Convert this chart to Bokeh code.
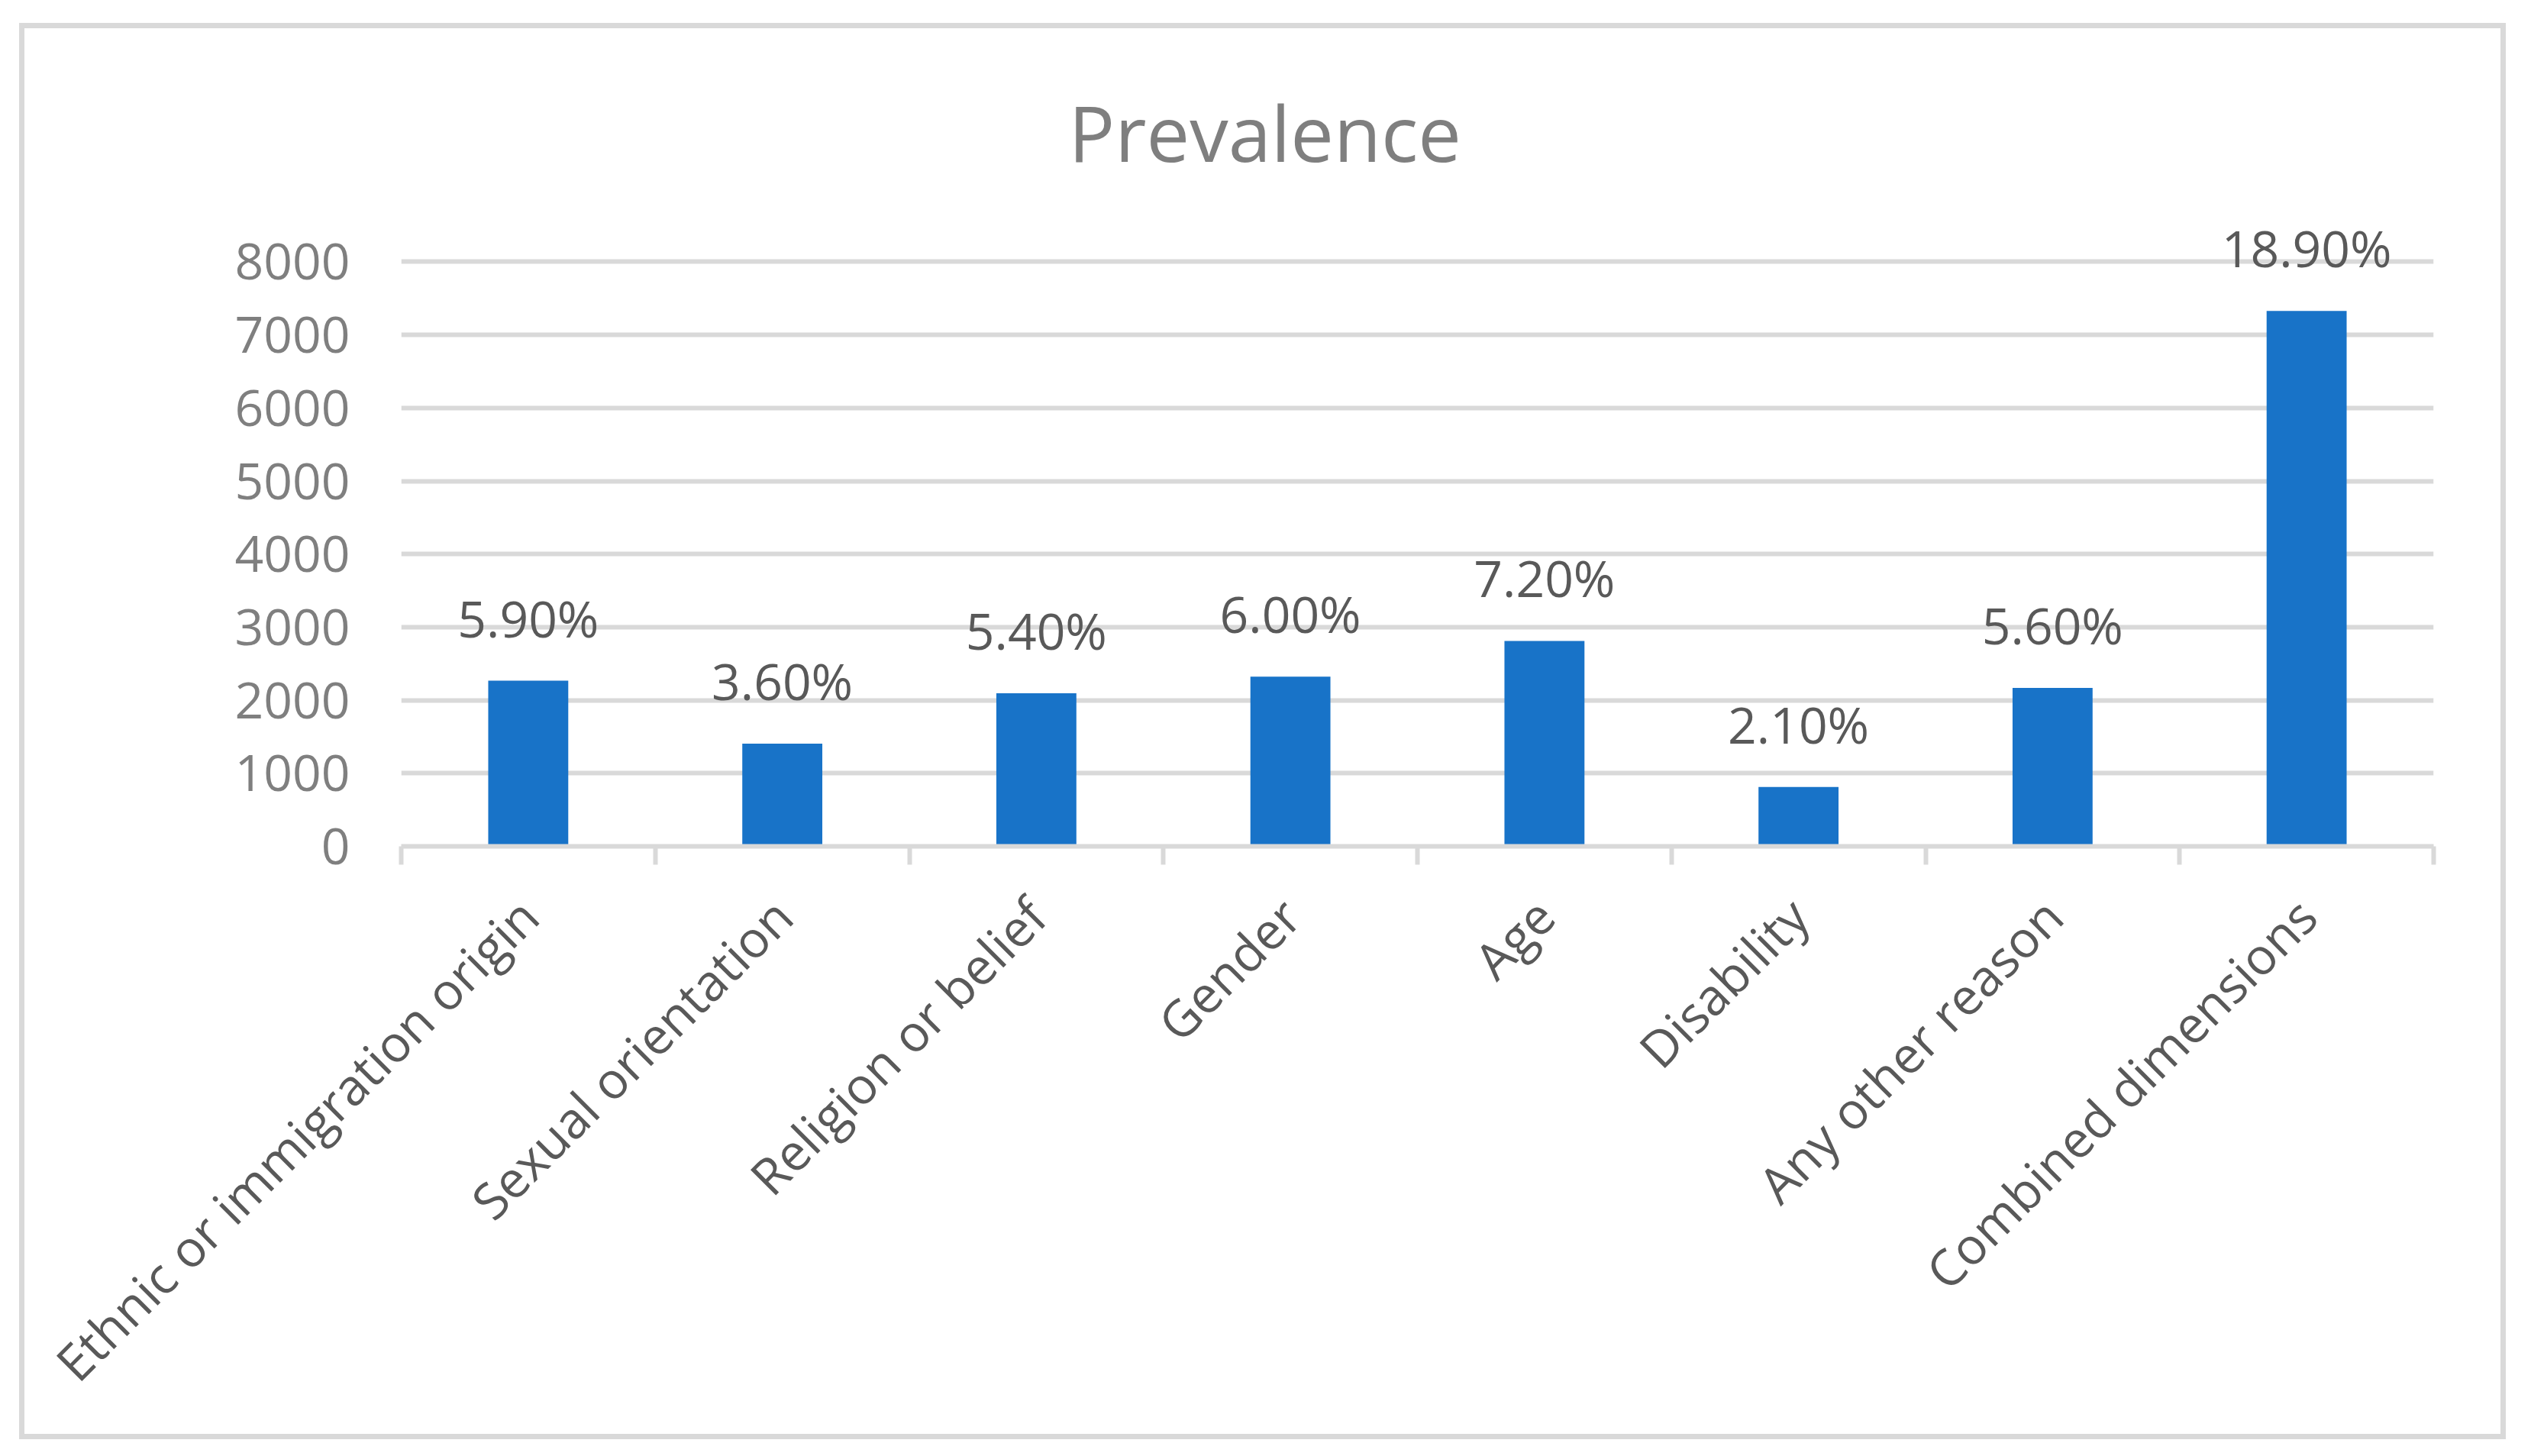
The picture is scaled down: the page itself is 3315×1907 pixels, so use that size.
from math import pi
from bokeh.plotting import figure
from bokeh.models import (ColumnDataSource, LinearAxis, Range1d, FixedTicker, LabelSet)
from bokeh.core.properties import value
from bokeh.embed import file_html
from bokeh.resources import INLINE

# ---- data ----
categories = ["Ethnic or immigration origin", "Sexual orientation", "Religion or belief",
              "Gender", "Age", "Disability", "Any other reason", "Combined dimensions"]
counts = [2267, 1406, 2094, 2323, 2812, 812, 2167, 7328]
prevalence = ["5.90%", "3.60%", "5.40%", "6.00%", "7.20%", "2.10%", "5.60%", "18.90%"]
y_ticks = [0, 1000, 2000, 3000, 4000, 5000, 6000, 7000, 8000]
y_view_max = 8600          # a little headroom so the top data label is not clipped
chart_title = "Prevalence"

FONT = "Open Sans"
GRID = "#d9d9d9"
BAR = "#1873C8"
LW = 6

n = len(categories)
slot_centers = [i + 0.5 for i in range(n)]      # category slot centres on a 0..n axis
slot_edges = list(range(n + 1))                  # category slot boundaries

src = ColumnDataSource(dict(x=slot_centers, cat=categories, count=counts, pct=prevalence))

W, H = 3257, 1855
p = figure(width=W, height=H,
           x_range=Range1d(0, n),
           y_range=Range1d(y_ticks[0], y_view_max),
           output_backend="svg", toolbar_location=None,
           x_axis_location=None, y_axis_location="left",
           min_border_left=493, min_border_right=102,
           min_border_top=248, min_border_bottom=784,
           title=chart_title)
p.styles = {"border": f"7px solid {GRID}", "margin-left": "25px", "margin-top": "30px"}
p.outline_line_color = None
p.background_fill_color = "white"
p.border_fill_color = "white"
p.xgrid.visible = False

# title
p.title.text_font = FONT
p.title.text_font_size = "101px"
p.title.text_font_style = "normal"
p.title.text_color = "#7f7f7f"
p.title.align = "left"
p.title.offset = 874
p.title.standoff = 87

# y axis
p.yaxis.ticker = FixedTicker(ticks=y_ticks)
p.yaxis.axis_line_color = None
p.yaxis.major_tick_line_color = None
p.yaxis.minor_tick_line_color = None
p.yaxis.major_tick_in = 0
p.yaxis.major_tick_out = 0
p.yaxis.major_label_standoff = 67
p.yaxis.major_label_text_font = FONT
p.yaxis.major_label_text_font_size = "66px"
p.yaxis.major_label_text_color = "#7f7f7f"
p.ygrid.ticker = FixedTicker(ticks=y_ticks)
p.ygrid.grid_line_color = GRID
p.ygrid.grid_line_width = LW

# bars
p.vbar(x="x", top="count", width=0.315, source=src, fill_color=BAR, line_color=None)

# x axis: names at slot centres, tick marks (minor) at slot boundaries
x_axis = LinearAxis(ticker=FixedTicker(ticks=slot_centers, minor_ticks=slot_edges),
                    major_label_overrides={c: name for c, name in zip(slot_centers, categories)},
                    axis_line_color=GRID, axis_line_width=LW,
                    major_tick_line_color=None, major_tick_in=0, major_tick_out=0,
                    minor_tick_line_color=GRID, minor_tick_line_width=LW,
                    minor_tick_in=0, minor_tick_out=24,
                    major_label_orientation=pi / 4,
                    major_label_standoff=55,
                    major_label_text_font=FONT,
                    major_label_text_font_size="66px",
                    major_label_text_color="#595959")
p.add_layout(x_axis, "below")

# data labels
labels = LabelSet(x="x", y="count", text="pct", source=src,
                  text_align="center", text_baseline="alphabetic", y_offset=57,
                  text_font=value(FONT), text_font_size="66px", text_color="#595959")
p.add_layout(labels)

open("out.html", "w").write(file_html(p, INLINE))
